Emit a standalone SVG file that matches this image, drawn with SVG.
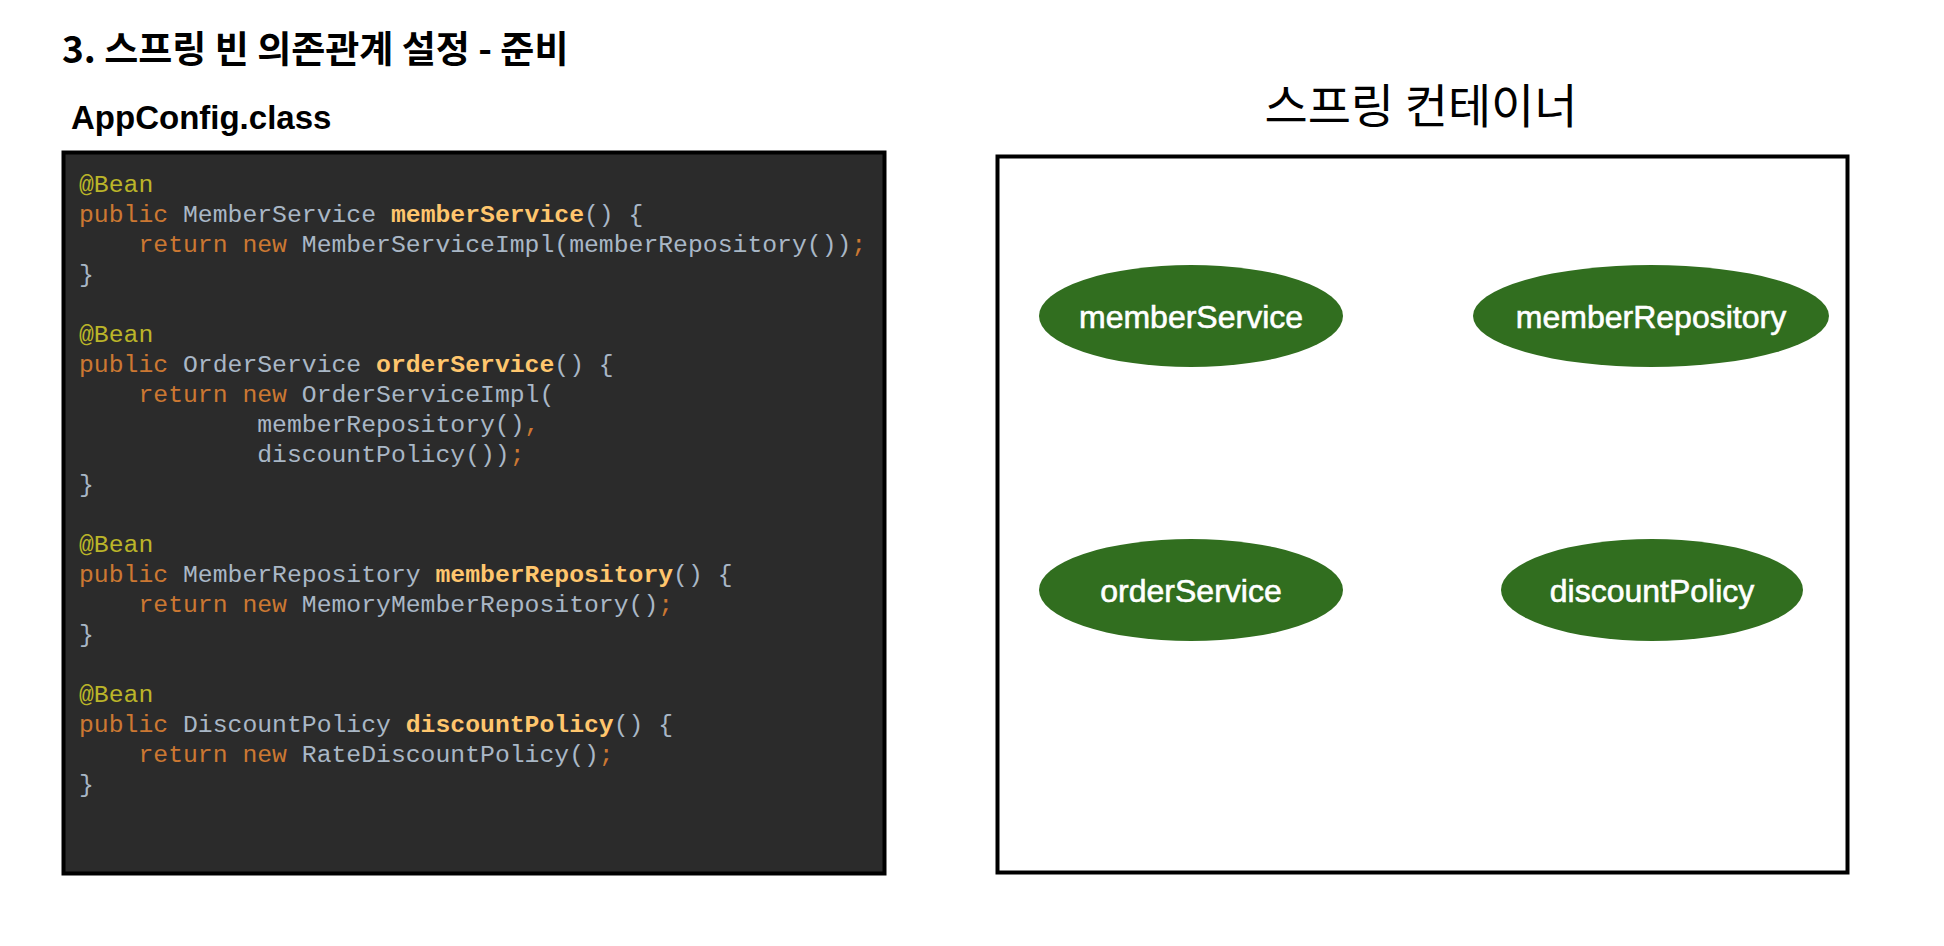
<svg xmlns="http://www.w3.org/2000/svg" width="1944" height="946" viewBox="0 0 1944 946">
<style>
.title{font-family:"Noto Sans CJK KR","Noto Sans",sans-serif;font-weight:700;font-size:37px;fill:#000}
.sub{font-family:"Liberation Sans",Arial,sans-serif;font-weight:700;font-size:33px;fill:#000}
.ctitle{font-family:"Noto Sans CJK KR","Noto Sans",sans-serif;font-weight:400;font-size:47px;fill:#000}
.code{font-family:"Liberation Mono","DejaVu Sans Mono",monospace;font-size:24.75px;fill:#A9B7C6;white-space:pre}
.an{fill:#BBB529}
.kw{fill:#CC7832}
.fn{fill:#FFC66D;font-weight:700}
.bean{fill:#316E1F}
.lbl{font-family:"Liberation Sans",Arial,sans-serif;font-size:32px;fill:#fff;stroke:#fff;stroke-width:0.6px;text-anchor:middle}
</style>
<rect width="1944" height="946" fill="#fff"/>
<text class="title" x="62" y="63">3. 스프링 빈 의존관계 설정 - 준비</text>
<text class="sub" x="71" y="129">AppConfig.class</text>
<g id="appconfig">
<rect x="63.5" y="152.5" width="821" height="721" fill="#2B2B2B" stroke="#000" stroke-width="4"/>
<text class="code" xml:space="preserve" x="79" y="191.5"><tspan class="an">@Bean</tspan></text>
<text class="code" xml:space="preserve" x="79" y="221.5"><tspan class="kw">public</tspan> MemberService <tspan class="fn">memberService</tspan>() {</text>
<text class="code" xml:space="preserve" x="79" y="251.5">    <tspan class="kw">return new</tspan> MemberServiceImpl(memberRepository())<tspan class="kw">;</tspan></text>
<text class="code" xml:space="preserve" x="79" y="281.5">}</text>
<text class="code" xml:space="preserve" x="79" y="341.5"><tspan class="an">@Bean</tspan></text>
<text class="code" xml:space="preserve" x="79" y="371.5"><tspan class="kw">public</tspan> OrderService <tspan class="fn">orderService</tspan>() {</text>
<text class="code" xml:space="preserve" x="79" y="401.5">    <tspan class="kw">return new</tspan> OrderServiceImpl(</text>
<text class="code" xml:space="preserve" x="79" y="431.5">            memberRepository()<tspan class="kw">,</tspan></text>
<text class="code" xml:space="preserve" x="79" y="461.5">            discountPolicy())<tspan class="kw">;</tspan></text>
<text class="code" xml:space="preserve" x="79" y="491.5">}</text>
<text class="code" xml:space="preserve" x="79" y="551.5"><tspan class="an">@Bean</tspan></text>
<text class="code" xml:space="preserve" x="79" y="581.5"><tspan class="kw">public</tspan> MemberRepository <tspan class="fn">memberRepository</tspan>() {</text>
<text class="code" xml:space="preserve" x="79" y="611.5">    <tspan class="kw">return new</tspan> MemoryMemberRepository()<tspan class="kw">;</tspan></text>
<text class="code" xml:space="preserve" x="79" y="641.5">}</text>
<text class="code" xml:space="preserve" x="79" y="701.5"><tspan class="an">@Bean</tspan></text>
<text class="code" xml:space="preserve" x="79" y="731.5"><tspan class="kw">public</tspan> DiscountPolicy <tspan class="fn">discountPolicy</tspan>() {</text>
<text class="code" xml:space="preserve" x="79" y="761.5">    <tspan class="kw">return new</tspan> RateDiscountPolicy()<tspan class="kw">;</tspan></text>
<text class="code" xml:space="preserve" x="79" y="791.5">}</text>
</g>
<text class="ctitle" x="1421" y="123" text-anchor="middle">스프링 컨테이너</text>
<g id="container">
<rect x="997.5" y="156.5" width="850" height="716" fill="#fff" stroke="#000" stroke-width="4"/>
</g>
<g id="memberService">
<ellipse class="bean" cx="1191" cy="316" rx="152" ry="51"/>
<text class="lbl" x="1191" y="328">memberService</text>
</g>
<g id="memberRepository">
<ellipse class="bean" cx="1651" cy="316" rx="178" ry="51"/>
<text class="lbl" x="1651" y="328">memberRepository</text>
</g>
<g id="orderService">
<ellipse class="bean" cx="1191" cy="590" rx="152" ry="51"/>
<text class="lbl" x="1191" y="602">orderService</text>
</g>
<g id="discountPolicy">
<ellipse class="bean" cx="1652" cy="590" rx="151" ry="51"/>
<text class="lbl" x="1652" y="602">discountPolicy</text>
</g>
<g id="connectors"/>
</svg>
